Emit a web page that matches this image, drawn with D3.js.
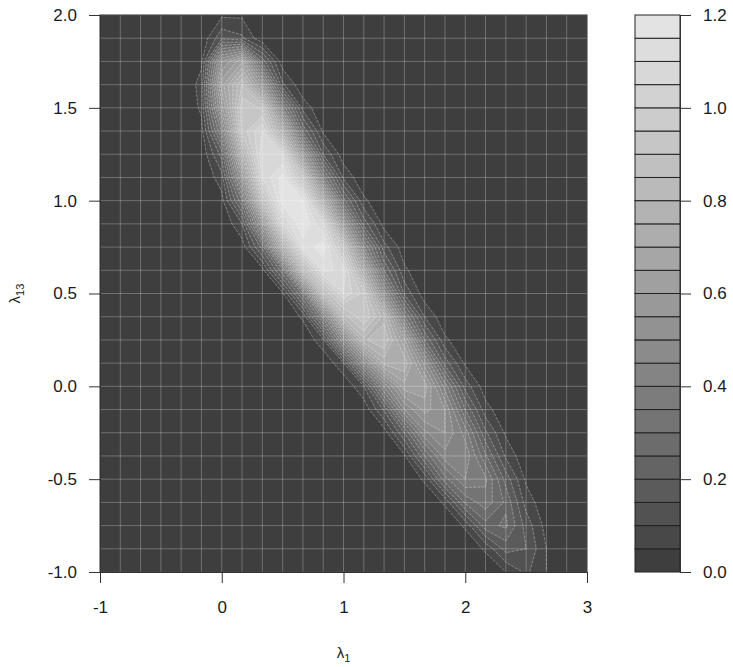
<!DOCTYPE html>
<html>
<head>
<meta charset="utf-8">
<script src="https://cdn.jsdelivr.net/npm/d3@7/dist/d3.min.js"></script>
<style>
  body { margin: 0; background: #ffffff; }
  svg { display: block; }
  text { font-family: "Liberation Sans", Arial, Helvetica, sans-serif; fill: #1a1a1a; }
</style>
</head>
<body>
<svg id="chart" width="733" height="667"></svg>
<script>
// Axis ranges of the density grid (25 x 25 kernel estimate)
const xLimits = [-1, 3];
const yLimits = [-1, 2];
const gridCount = 25;

const xTicks = [-1, 0, 1, 2, 3];
const yTicks = [-1, -0.5, 0, 0.5, 1, 1.5, 2];
const keyTicks = [0, 0.2, 0.4, 0.6, 0.8, 1.0, 1.2];

// contour levels of the filled plot
const levels = [0, 0.05, 0.10, 0.15, 0.20, 0.25, 0.30, 0.35, 0.40, 0.45, 0.50, 0.55,
                0.60, 0.65, 0.70, 0.75, 0.80, 0.85, 0.90, 0.95, 1.00, 1.05, 1.10, 1.15, 1.20];

// density rows from y = -1 (first) to y = 2 (last);
// each row: index of first non-zero column, then the values from there on
const densityRows = [
  [20, 0.05, 0.11, 0.05],
  [19, 0.06, 0.17, 0.15, 0.05],
  [18, 0.06, 0.23, 0.26, 0.13, 0.03],
  [17, 0.06, 0.26, 0.33, 0.24, 0.08, 0.01],
  [16, 0.06, 0.28, 0.40, 0.36, 0.18, 0.04, 0.01],
  [15, 0.04, 0.25, 0.43, 0.44, 0.26, 0.09, 0.01],
  [14, 0.02, 0.20, 0.44, 0.50, 0.38, 0.16, 0.04],
  [13, 0.01, 0.16, 0.45, 0.57, 0.50, 0.25, 0.07, 0.01],
  [13, 0.10, 0.41, 0.63, 0.63, 0.38, 0.13, 0.02],
  [12, 0.10, 0.45, 0.72, 0.74, 0.48, 0.18, 0.04],
  [11, 0.09, 0.46, 0.79, 0.85, 0.61, 0.25, 0.06, 0.01],
  [10, 0.06, 0.38, 0.82, 0.95, 0.78, 0.36, 0.10, 0.01],
  [9, 0.04, 0.32, 0.84, 1.05, 0.93, 0.48, 0.14, 0.02],
  [8, 0.03, 0.29, 0.82, 1.11, 1.09, 0.68, 0.25, 0.06, 0.01],
  [7, 0.02, 0.22, 0.73, 1.12, 1.18, 0.89, 0.41, 0.12, 0.02],
  [7, 0.10, 0.52, 1.04, 1.20, 1.05, 0.56, 0.18, 0.03],
  [6, 0.03, 0.29, 0.86, 1.18, 1.16, 0.73, 0.27, 0.06, 0.01],
  [6, 0.08, 0.52, 1.05, 1.17, 0.90, 0.38, 0.09, 0.01],
  [5, 0.01, 0.17, 0.74, 1.10, 1.05, 0.55, 0.15, 0.02],
  [5, 0.03, 0.36, 0.92, 1.05, 0.73, 0.24, 0.04],
  [5, 0.06, 0.53, 0.94, 0.89, 0.40, 0.08, 0.01],
  [5, 0.07, 0.63, 0.85, 0.54, 0.11, 0.01],
  [5, 0.04, 0.50, 0.64, 0.23, 0.02],
  [5, 0.01, 0.14, 0.11, 0.01],
  [6, 0.04, 0.04]
];

// ---- layout ----
const plot = { left: 100, right: 587, top: 15, bottom: 572 };
const key = { left: 635, right: 680 };

const svg = d3.select("#chart");

const x = d3.scaleLinear().domain(xLimits).range([plot.left, plot.right]);
const y = d3.scaleLinear().domain(yLimits).range([plot.bottom, plot.top]);
const keyY = d3.scaleLinear().domain([levels[0], levels[levels.length - 1]]).range([plot.bottom, plot.top]);

// band colours, dark to light grey
const nBands = levels.length - 1;
const greyRamp = d3.interpolateRgb.gamma(1.5)("#3e3e3e", "#e3e3e3");
const bandColor = d3.range(nBands).map(k => greyRamp(k / (nBands - 1)));

// full value matrix (row-major, row 0 = lowest y)
const values = new Array(gridCount * gridCount).fill(0);
densityRows.forEach((row, j) => {
  const start = row[0];
  row.slice(1).forEach((v, k) => { values[j * gridCount + start + k] = v; });
});

const dxGrid = (xLimits[1] - xLimits[0]) / (gridCount - 1);
const dyGrid = (yLimits[1] - yLimits[0]) / (gridCount - 1);
const gx = g => x(xLimits[0] + (g - 0.5) * dxGrid);
const gy = g => y(yLimits[0] + (g - 0.5) * dyGrid);
const gridPath = d3.geoPath(d3.geoTransform({
  point(px, py) { this.stream.point(gx(px), gy(py)); }
}));

const contours = d3.contours()
  .size([gridCount, gridCount])
  .thresholds(levels.slice(1, -1))(values);

svg.append("defs").append("clipPath").attr("id", "plot-clip")
  .append("rect")
  .attr("x", plot.left).attr("y", plot.top)
  .attr("width", plot.right - plot.left).attr("height", plot.bottom - plot.top);

const area = svg.append("g").attr("clip-path", "url(#plot-clip)");

// lowest band as background
area.append("rect")
  .attr("x", plot.left).attr("y", plot.top)
  .attr("width", plot.right - plot.left).attr("height", plot.bottom - plot.top)
  .attr("fill", bandColor[0]);

area.selectAll("path.band")
  .data(contours)
  .join("path")
  .attr("class", "band")
  .attr("d", gridPath)
  .attr("fill", (d, k) => bandColor[k + 1])
  .attr("stroke", "none");

area.selectAll("path.iso")
  .data(contours)
  .join("path")
  .attr("class", "iso")
  .attr("d", gridPath)
  .attr("fill", "none")
  .attr("stroke", "rgba(255,255,255,0.36)")
  .attr("stroke-width", 0.9)
  .attr("stroke-dasharray", "3,1.2");

// grid lines through the density grid nodes
const gridNodesX = d3.range(gridCount).map(i => xLimits[0] + i * dxGrid);
const gridNodesY = d3.range(gridCount).map(j => yLimits[0] + j * dyGrid);
area.selectAll("line.gx")
  .data(gridNodesX)
  .join("line")
  .attr("x1", d => x(d)).attr("x2", d => x(d))
  .attr("y1", plot.top).attr("y2", plot.bottom)
  .attr("stroke", "rgba(255,255,255,0.26)")
  .attr("stroke-width", 1);
area.selectAll("line.gy")
  .data(gridNodesY)
  .join("line")
  .attr("y1", d => y(d)).attr("y2", d => y(d))
  .attr("x1", plot.left).attr("x2", plot.right)
  .attr("stroke", "rgba(255,255,255,0.26)")
  .attr("stroke-width", 1);

// plot frame
svg.append("rect")
  .attr("x", plot.left).attr("y", plot.top)
  .attr("width", plot.right - plot.left).attr("height", plot.bottom - plot.top)
  .attr("fill", "none").attr("stroke", "#333").attr("stroke-width", 1);

// axes
const fontSize = 17;
const xAxis = d3.axisBottom(x).tickValues(xTicks).tickFormat(d => String(d)).tickSize(11).tickPadding(18);
const yAxis = d3.axisLeft(y).tickValues(yTicks).tickFormat(d => d.toFixed(1)).tickSize(11).tickPadding(12);

const gX = svg.append("g").attr("transform", `translate(0,${plot.bottom})`).call(xAxis);
const gY = svg.append("g").attr("transform", `translate(${plot.left},0)`).call(yAxis);
[gX, gY].forEach(g => {
  g.select(".domain").attr("stroke", "#333");
  g.selectAll(".tick line").attr("stroke", "#333");
  g.selectAll(".tick text").attr("font-size", fontSize).attr("fill", "#1a1a1a")
    .attr("font-family", '"Liberation Sans", Arial, sans-serif');
});

// axis titles
const xt = svg.append("text")
  .attr("x", (plot.left + plot.right) / 2)
  .attr("y", 658)
  .attr("text-anchor", "middle")
  .attr("font-size", 15);
xt.append("tspan").text("λ");
xt.append("tspan").attr("font-size", 11).attr("dy", 4).text("1");

const yt = svg.append("text")
  .attr("transform", `translate(20,${(plot.top + plot.bottom) / 2}) rotate(-90)`)
  .attr("text-anchor", "middle")
  .attr("font-size", 15);
yt.append("tspan").text("λ");
yt.append("tspan").attr("font-size", 11).attr("dy", 4).text("13");

// colour key
const keyG = svg.append("g");
keyG.selectAll("rect.kb")
  .data(d3.range(nBands))
  .join("rect")
  .attr("class", "kb")
  .attr("x", key.left)
  .attr("y", k => keyY(levels[k + 1]))
  .attr("width", key.right - key.left)
  .attr("height", k => keyY(levels[k]) - keyY(levels[k + 1]))
  .attr("fill", k => bandColor[k])
  .attr("stroke", "#222")
  .attr("stroke-width", 1);

const keyAxis = d3.axisRight(keyY).tickValues(keyTicks).tickFormat(d => d.toFixed(1)).tickSize(11).tickPadding(12);
const gK = svg.append("g").attr("transform", `translate(${key.right},0)`).call(keyAxis);
gK.select(".domain").attr("stroke", "#333");
gK.selectAll(".tick line").attr("stroke", "#333");
gK.selectAll(".tick text").attr("font-size", fontSize).attr("fill", "#1a1a1a")
  .attr("font-family", '"Liberation Sans", Arial, sans-serif');
</script>
</body>
</html>
